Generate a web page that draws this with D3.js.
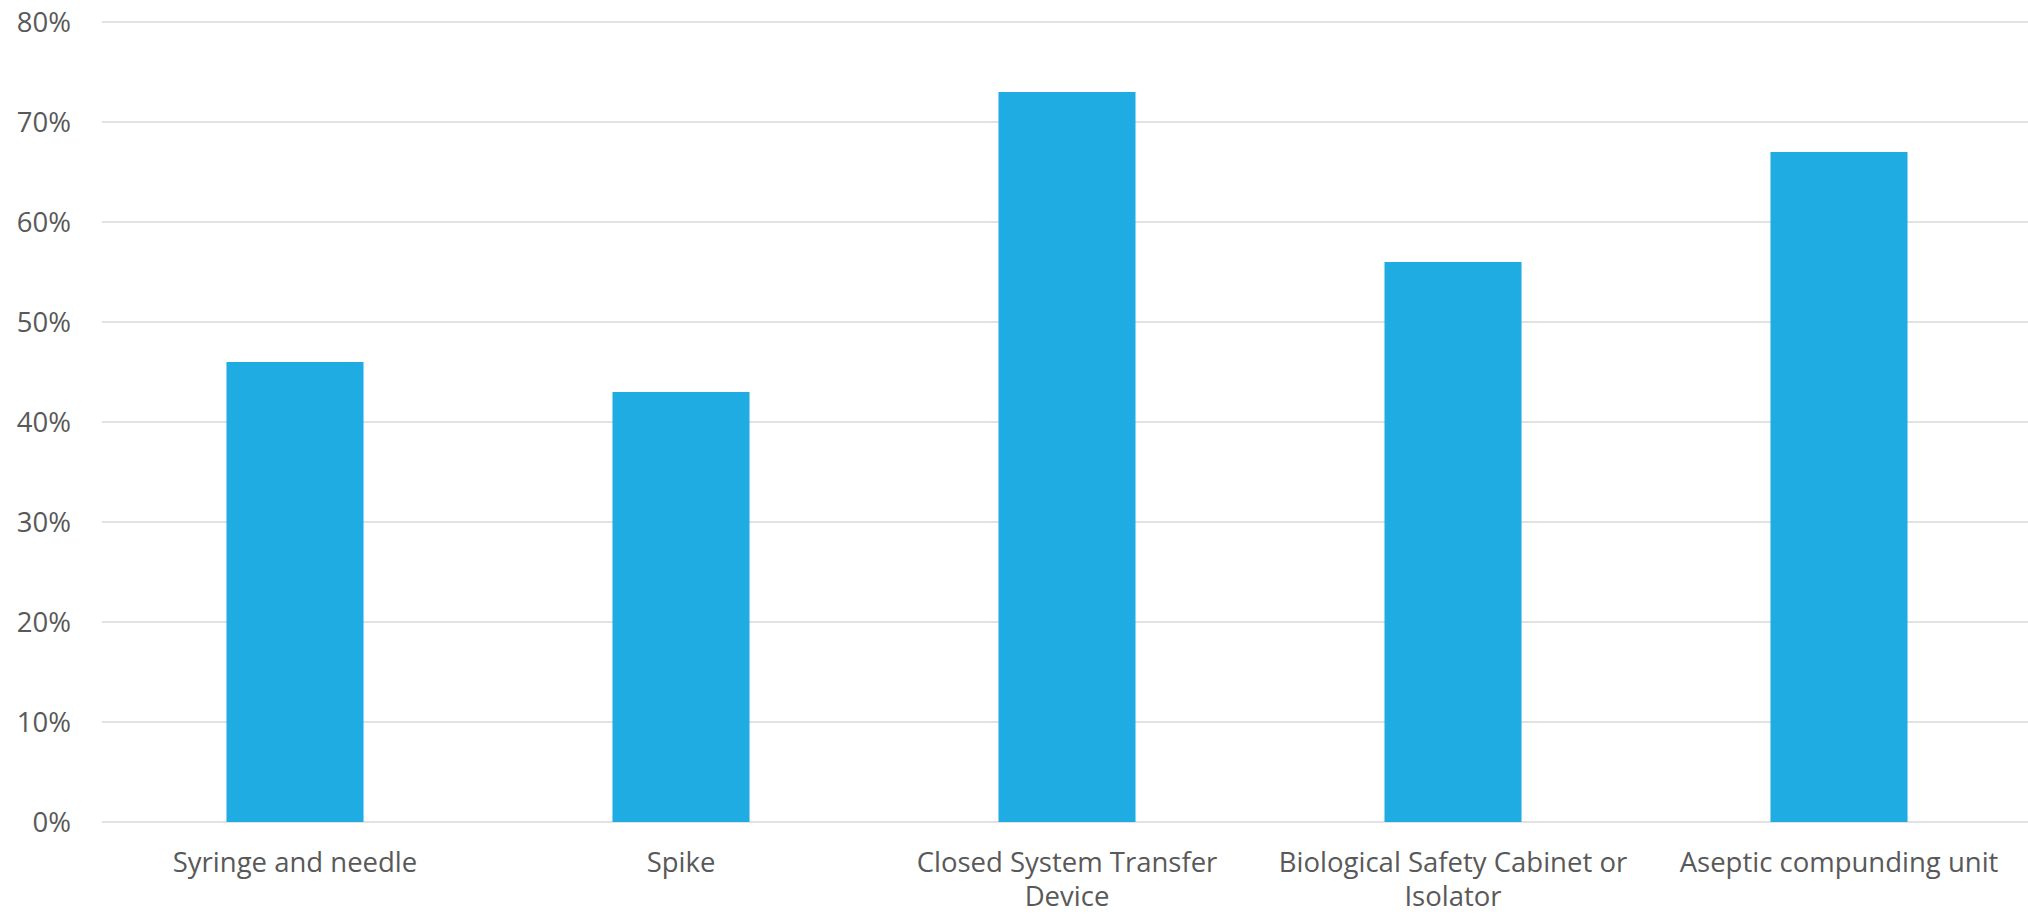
<!DOCTYPE html>
<html><head><meta charset="utf-8">
<script src="https://cdn.jsdelivr.net/npm/d3@7"></script>
<style>html,body{margin:0;padding:0;background:#fff;}svg{display:block;}</style>
</head><body>
<svg id="chart" width="2028" height="915"></svg>
<script>
const categories = ["Syringe and needle", "Spike", "Closed System Transfer Device", "Biological Safety Cabinet or Isolator", "Aseptic compunding unit"];
const values = [46, 43, 73, 56, 67];
const yTicks = [0, 10, 20, 30, 40, 50, 60, 70, 80];

const svg = d3.select("#chart");
const W = 2028, H = 915;
const m = {left: 102, right: -4, top: 22, bottom: 93};
const font = "'Open Sans', sans-serif";
const fs = 27.5;

const x = d3.scaleBand().domain(categories).range([m.left, W - m.right]).paddingInner(0.645).paddingOuter(0.3225);
const y = d3.scaleLinear().domain([0, 80]).range([H - m.bottom, m.top]);

// gridlines
svg.append("g").selectAll("line").data(yTicks).join("line")
  .attr("x1", m.left).attr("x2", W)
  .attr("y1", d => y(d)).attr("y2", d => y(d))
  .attr("stroke", "#d9d9d9").attr("stroke-width", 1.5);

// y axis labels
const yAxis = d3.axisLeft(y).tickValues(yTicks).tickFormat(d => d + "%").tickSize(0).tickPadding(0);
const gy = svg.append("g").attr("transform", `translate(71,0)`).call(yAxis);
gy.select(".domain").remove();
gy.selectAll("text").attr("font-family", font).attr("font-size", fs).attr("fill", "#595959").attr("dy", "0.35em");

// bars
svg.append("g").selectAll("rect").data(values).join("rect")
  .attr("x", (d, i) => x(categories[i]))
  .attr("width", x.bandwidth())
  .attr("y", d => y(d))
  .attr("height", d => y(0) - y(d))
  .attr("fill", "#1face3");

// x labels with wrapping
const baseY = 50, lineH = 34;
const xAxis = d3.axisBottom(x).tickSize(0).tickPadding(0);
const gx = svg.append("g").attr("transform", `translate(0,${y(0)})`).call(xAxis);
gx.select(".domain").remove();
gx.selectAll("text").attr("font-family", font).attr("font-size", fs).attr("fill", "#595959")
  .attr("y", baseY).attr("dy", 0)
  .each(function(d) {
    const t = d3.select(this);
    const words = d.split(" ");
    t.text(null);
    let line = [];
    let lineNo = 0;
    let ts = t.append("tspan").attr("x", 0).attr("y", baseY);
    for (const w of words) {
      line.push(w);
      ts.text(line.join(" "));
      if (ts.node().getComputedTextLength() > 375 && line.length > 1) {
        line.pop();
        ts.text(line.join(" "));
        line = [w];
        lineNo++;
        ts = t.append("tspan").attr("x", 0).attr("y", baseY + lineNo * lineH).text(w);
      }
    }
  });
</script>
</body></html>
